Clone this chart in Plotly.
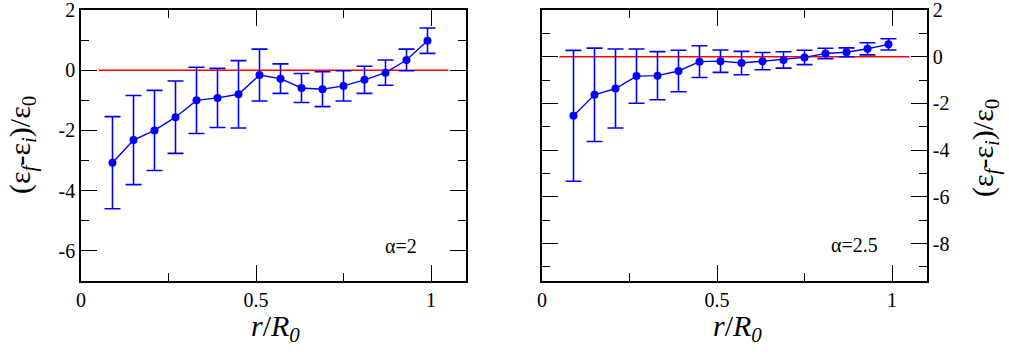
import plotly.graph_objects as go

# r/R0 positions of the bins
r_vals = [0.09, 0.15, 0.21, 0.27, 0.33, 0.39, 0.45, 0.51,
          0.57, 0.63, 0.69, 0.75, 0.81, 0.87, 0.93, 0.99]

# alpha = 2 panel
y_a2 = [-3.07, -2.32, -2.00, -1.56, -1.00, -0.92, -0.80, -0.16,
        -0.28, -0.59, -0.63, -0.52, -0.32, -0.08, 0.34, 0.98]
err_a2 = [1.53, 1.48, 1.33, 1.20, 1.10, 0.98, 1.12, 0.86,
          0.49, 0.48, 0.58, 0.50, 0.45, 0.42, 0.36, 0.42]

# alpha = 2.5 panel
y_a25 = [-2.53, -1.63, -1.36, -0.83, -0.81, -0.61, -0.21, -0.19,
         -0.27, -0.19, -0.14, -0.03, 0.14, 0.19, 0.34, 0.53]
err_a25 = [2.80, 2.00, 1.69, 1.16, 1.03, 0.89, 0.68, 0.48,
           0.50, 0.37, 0.35, 0.31, 0.22, 0.19, 0.26, 0.24]

zero_x = [0.05, 1.05]
zero_y = [0, 0]

x_ticks = [0, 0.5, 1]
x_ticktext = ["0", "0.5", "1"]
y_ticks_left = [-6, -4, -2, 0, 2]
y_ticks_right = [-8, -6, -4, -2, 0, 2]

W, H = 1009, 356
# plot box edges in window pixels
LEFT_BOX = (81, 466)
RIGHT_BOX = (542, 927)
TOP, BOTTOM = 10, 281

ML = LEFT_BOX[0]
MR = W - RIGHT_BOX[1]
MT = TOP
MB = H - BOTTOM
plot_w = W - ML - MR
plot_h = H - MT - MB

SERIF = "Liberation Serif, Times New Roman, serif"
BLUE = "#0000ff"
RED = "#ff0000"


def px_x(p):
    return (p - ML) / plot_w


def px_y(p):
    return 1 - (p - MT) / plot_h


fig = go.Figure()

for y, err, xa, ya in [(y_a2, err_a2, "x", "y"), (y_a25, err_a25, "x2", "y2")]:
    fig.add_trace(go.Scatter(
        x=zero_x, y=zero_y, mode="lines",
        line=dict(color=RED, width=1.6),
        xaxis=xa, yaxis=ya, showlegend=False, hoverinfo="skip",
    ))
    fig.add_trace(go.Scatter(
        x=r_vals, y=y, mode="lines+markers",
        line=dict(color=BLUE, width=1.4),
        marker=dict(color=BLUE, size=8),
        error_y=dict(type="data", array=err, visible=True,
                     color=BLUE, thickness=1.6, width=8),
        xaxis=xa, yaxis=ya, showlegend=False,
    ))

tick_font = dict(family=SERIF, size=20, color="black")


def x_axis(domain, anchor):
    return dict(
        domain=domain, anchor=anchor, range=[0, 1.1], automargin=False,
        tickmode="array", tickvals=x_ticks, ticktext=x_ticktext,
        ticks="inside", ticklen=16, tickwidth=1.3, tickcolor="black",
        minor=dict(dtick=0.25, tick0=0, ticks="inside", ticklen=8,
                   tickwidth=1.3, tickcolor="black"),
        showline=True, linecolor="black", linewidth=1.5, mirror="ticks",
        showgrid=False, zeroline=False, ticklabeloverflow="allow",
        tickfont=tick_font,
    )


def y_axis(anchor, rng, ticks, side):
    return dict(
        domain=[0, 1], anchor=anchor, range=rng, side=side, automargin=False,
        tickmode="array", tickvals=ticks, ticktext=[str(t) for t in ticks],
        ticks="inside", ticklen=16, tickwidth=1.3, tickcolor="black",
        minor=dict(dtick=1, tick0=0, ticks="inside", ticklen=8,
                   tickwidth=1.3, tickcolor="black"),
        showline=True, linecolor="black", linewidth=1.5, mirror="ticks",
        showgrid=False, zeroline=False, ticklabeloverflow="allow",
        tickfont=tick_font,
    )


fig.update_layout(
    width=W, height=H,
    paper_bgcolor="white", plot_bgcolor="white",
    margin=dict(l=ML, r=MR, t=MT, b=MB),
    font=dict(family=SERIF),
    xaxis=x_axis([px_x(LEFT_BOX[0]), px_x(LEFT_BOX[1])], "y"),
    yaxis=y_axis("x", [-7, 2], y_ticks_left, "left"),
    xaxis2=x_axis([px_x(RIGHT_BOX[0]), px_x(RIGHT_BOX[1])], "y2"),
    yaxis2=y_axis("x2", [-9.6, 2], y_ticks_right, "right"),
)

ytitle = "(ε<sub><i>f</i></sub>-ε<sub><i>i</i></sub>)/ε<sub>0</sub>"
xtitle = "<i>r</i>/<i>R</i><sub><i>0</i></sub>"
title_font = dict(family=SERIF, size=30, color="black")
label_font = dict(family=SERIF, size=20, color="black")

annotations = [
    dict(text=ytitle, x=px_x(22), y=px_y(145), textangle=-90),
    dict(text=ytitle, x=px_x(985), y=px_y(148), textangle=-90),
    dict(text=xtitle, x=px_x(275), y=px_y(328)),
    dict(text=xtitle, x=px_x(737), y=px_y(328)),
]
for a in annotations:
    fig.add_annotation(xref="paper", yref="paper", showarrow=False,
                       xanchor="center", yanchor="middle", font=title_font, **a)

fig.add_annotation(text="α=2", xref="x", yref="y", x=0.915, y=-5.85,
                   showarrow=False, font=label_font)
fig.add_annotation(text="α=2.5", xref="x2", yref="y2", x=0.893, y=-8.05,
                   showarrow=False, font=label_font)

# drop the page's default body margin so the figure sits at the window corner
fig.write_html("out.html", config={"displayModeBar": False},
               post_script="document.body.style.margin='0';")
